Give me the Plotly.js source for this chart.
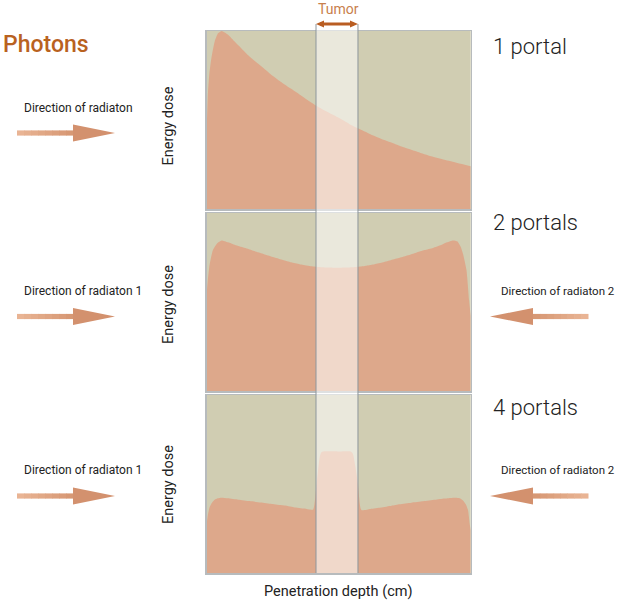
<!DOCTYPE html>
<html><head><meta charset="utf-8">
<script src="https://cdn.plot.ly/plotly-3.0.1.min.js"></script>
<style>html,body{margin:0;padding:0;background:#fff;} #chart{width:618px;height:600px;}</style>
</head><body><div id="chart"></div>
<script>
// ---- data (penetration depth 0-100, relative energy dose 0-100) ----
const depth1 = [0, 0.5, 1, 1.8, 3, 4.3, 5.7, 8, 10, 13, 16, 20, 24, 28, 32, 36, 41.5, 46, 50, 54, 57.3, 62, 66, 70.6, 75, 80, 85, 90, 95, 100];
const dose1  = [45, 66, 76, 85, 94, 98.7, 100, 98, 95, 90.5, 86, 81, 76, 71.5, 67.5, 63.5, 58, 54.3, 51.2, 47.8, 45.3, 42, 39.5, 37, 34.5, 32, 29.6, 27.6, 25.8, 24];

const depth2 = [0, 0.4, 1, 2.3, 4, 5.6, 8, 10, 13, 16.3, 19.5, 22.6, 25.7, 28.9, 32, 35.2, 38.3, 41.4, 45, 49.4, 53.8, 57.4, 60.5, 63.6, 66.8, 69.9, 73.1, 76.2, 79.3, 82.5, 85.7, 88.8, 91, 93.3, 95, 96.2, 97.1, 98.4, 99.4, 100];
const dose2  = [55, 62, 70, 79, 83, 84.5, 83.5, 82.5, 81, 79.5, 77.9, 76.4, 75, 73.6, 72.3, 71.2, 70.4, 69.8, 69.4, 69.3, 69.4, 69.8, 70.4, 71.2, 72.3, 73.6, 74.8, 76.2, 77.7, 79.2, 80.4, 82, 83.5, 84.6, 84, 81, 77, 68, 51, 42];

const depth4 = [0, 0.5, 1.1, 2, 3, 4.2, 5.6, 8, 12, 16.3, 20.5, 24.7, 28.9, 33, 37, 40.3, 41.5, 42.8, 43.4, 44.2, 49.5, 54.6, 55.4, 56.3, 57.3, 58.6, 62, 66, 70, 73.1, 77.5, 82, 86.5, 90, 92.5, 94.3, 95.8, 97.1, 98.2, 99, 99.6, 100];
const dose4  = [28, 33, 37, 39.5, 41.2, 42, 42.3, 42, 41.2, 40.4, 39.6, 38.8, 38, 37, 36.2, 35.6, 48.2, 65, 67.8, 68.3, 68.3, 68.3, 66.9, 60, 50.1, 35.4, 36, 36.8, 37.8, 38.6, 39.5, 40.3, 41.1, 41.8, 42.2, 42.3, 42, 40.8, 38.5, 35.2, 27.8, 24];

const tumor = [41.4, 57.3];
const portalLabels = ["1 portal", "2 portals", "4 portals"];
const leftLabels = ["Direction of radiaton", "Direction of radiaton 1", "Direction of radiaton 1"];
const rightLabels = ["", "Direction of radiaton 2", "Direction of radiaton 2"];

// ---- layout helpers (pixel -> paper) ----
const W = 618, H = 600;
const px = x => x / W;
const py = y => 1 - y / H;
const FONT = "Roboto, 'DejaVu Sans', sans-serif";
const BG = '#d0cdb2', SALMON = '#dda88b', BORDER = '#b7bbbd', BANDLINE = '#8d969c';

const panels = [[31, 209], [213, 391], [395, 573]];
const xDom = [px(206.7), px(470.7)];

const series = [[depth1, dose1], [depth2, dose2], [depth4, dose4]];
const traces = series.map((s, i) => ({
  x: s[0], y: s[1], type: 'scatter', mode: 'lines',
  line: {width: 0, shape: 'spline', smoothing: 0.5, color: SALMON},
  fill: 'tozeroy', fillcolor: SALMON,
  xaxis: i === 0 ? 'x' : 'x' + (i + 1), yaxis: i === 0 ? 'y' : 'y' + (i + 1),
  hoverinfo: 'skip', showlegend: false
}));

const layout = {
  width: W, height: H, margin: {l: 0, r: 0, t: 0, b: 0},
  paper_bgcolor: '#ffffff', plot_bgcolor: BG, showlegend: false,
  shapes: [], annotations: []
};
panels.forEach((p, i) => {
  const sfx = i === 0 ? '' : String(i + 1);
  layout['xaxis' + sfx] = {domain: xDom, range: [0, 100], anchor: 'y' + sfx, showticklabels: false, ticks: '', showgrid: false, zeroline: false, showline: true, mirror: true, linecolor: BORDER, linewidth: 1.5, fixedrange: true};
  layout['yaxis' + sfx] = {domain: [py(p[1]), py(p[0])], range: [0, 100], anchor: 'x' + sfx, showticklabels: false, ticks: '', showgrid: false, zeroline: false, showline: true, mirror: true, linecolor: BORDER, linewidth: 1.5, fixedrange: true};
});

// tumor band
layout.shapes.push({type: 'rect', xref: 'x', yref: 'paper', x0: tumor[0], x1: tumor[1], y0: py(573), y1: py(24), fillcolor: 'rgba(255,255,255,0.55)', line: {width: 0}, layer: 'above'});
tumor.forEach(t => layout.shapes.push({type: 'line', xref: 'x', yref: 'paper', x0: t, x1: t, y0: py(573), y1: py(24), line: {color: BANDLINE, width: 1}, layer: 'above'}));

// tumor double arrow
const TA = '#b95d22';
layout.shapes.push({type: 'line', xref: 'x', yref: 'paper', x0: tumor[0] + 1.5, x1: tumor[1] - 1.5, y0: py(24), y1: py(24), line: {color: TA, width: 3}, layer: 'above'});
(function(){
  const xl = 206.7 + tumor[0] * 2.64, xr = 206.7 + tumor[1] * 2.64;
  layout.shapes.push({type: 'path', xref: 'paper', yref: 'paper', path: `M${px(xl)},${py(24)} L${px(xl + 8)},${py(20.5)} L${px(xl + 8)},${py(27.5)} Z`, fillcolor: TA, line: {width: 0}, layer: 'above'});
  layout.shapes.push({type: 'path', xref: 'paper', yref: 'paper', path: `M${px(xr)},${py(24)} L${px(xr - 8)},${py(20.5)} L${px(xr - 8)},${py(27.5)} Z`, fillcolor: TA, line: {width: 0}, layer: 'above'});
})();

// direction arrows
function arrow(tail, base, tip, y) {
  const n = 8, light = [234, 182, 150], dark = [214, 150, 114];
  for (let k = 0; k < n; k++) {
    const a = tail + (base - tail) * k / n, b = tail + (base - tail) * (k + 1) / n;
    const f = (k + 0.5) / n;
    const c = light.map((v, j) => Math.round(v + (dark[j] - v) * f));
    layout.shapes.push({type: 'rect', xref: 'paper', yref: 'paper', x0: px(Math.min(a, b)), x1: px(Math.max(a, b) + 0.5), y0: py(y + 2.6), y1: py(y - 2.6), fillcolor: `rgb(${c})`, line: {width: 0}});
  }
  layout.shapes.push({type: 'path', xref: 'paper', yref: 'paper', path: `M${px(base)},${py(y - 8.5)} L${px(tip)},${py(y)} L${px(base)},${py(y + 8.5)} Z`, fillcolor: 'rgb(211,145,110)', line: {width: 0}});
}
const arrowY = [133, 316.5, 496];
const leftTextY = [108, 291, 470];
arrowY.forEach((y, i) => {
  arrow(17, 73, 115, y);
  if (rightLabels[i]) arrow(588, 533, 490, y);
});

const ann = (text, x, y, opts) => Object.assign({text, x: px(x), y: py(y), xref: 'paper', yref: 'paper', showarrow: false, font: {family: FONT, size: 12, color: '#222'}}, opts);
layout.annotations.push(ann('Photons', 1, 44, {xanchor: 'left', yanchor: 'middle', font: {family: FONT, size: 23, color: '#b9621f', weight: 500}}));
layout.annotations.push(ann('Tumor', 338, 9, {xanchor: 'center', yanchor: 'middle', font: {family: FONT, size: 14, color: '#c8804c'}}));
layout.annotations.push(ann('Penetration depth (cm)', 338, 591, {xanchor: 'center', yanchor: 'middle', font: {family: FONT, size: 14.5, color: '#222'}}));
const energyY = [126.5, 305, 485];
const portalY = [46, 223, 407];
panels.forEach((p, i) => {
  layout.annotations.push(ann(leftLabels[i], 22, leftTextY[i], {xanchor: 'left', yanchor: 'middle', font: {family: FONT, size: 12, color: '#222'}}));
  if (rightLabels[i]) layout.annotations.push(ann(rightLabels[i], 617, leftTextY[i], {xanchor: 'right', yanchor: 'middle', font: {family: FONT, size: 11.5, color: '#222'}}));
  layout.annotations.push(ann('Energy dose', 168, energyY[i], {xanchor: 'center', yanchor: 'middle', textangle: -90, font: {family: FONT, size: 14.5, color: '#222'}}));
  layout.annotations.push(ann(portalLabels[i], 491, portalY[i], {xanchor: 'left', yanchor: 'middle', font: {family: FONT, size: 22, color: '#222', weight: 300}}));
});

Plotly.newPlot('chart', traces, layout, {staticPlot: true, displayModeBar: false});
</script>
</body></html>
